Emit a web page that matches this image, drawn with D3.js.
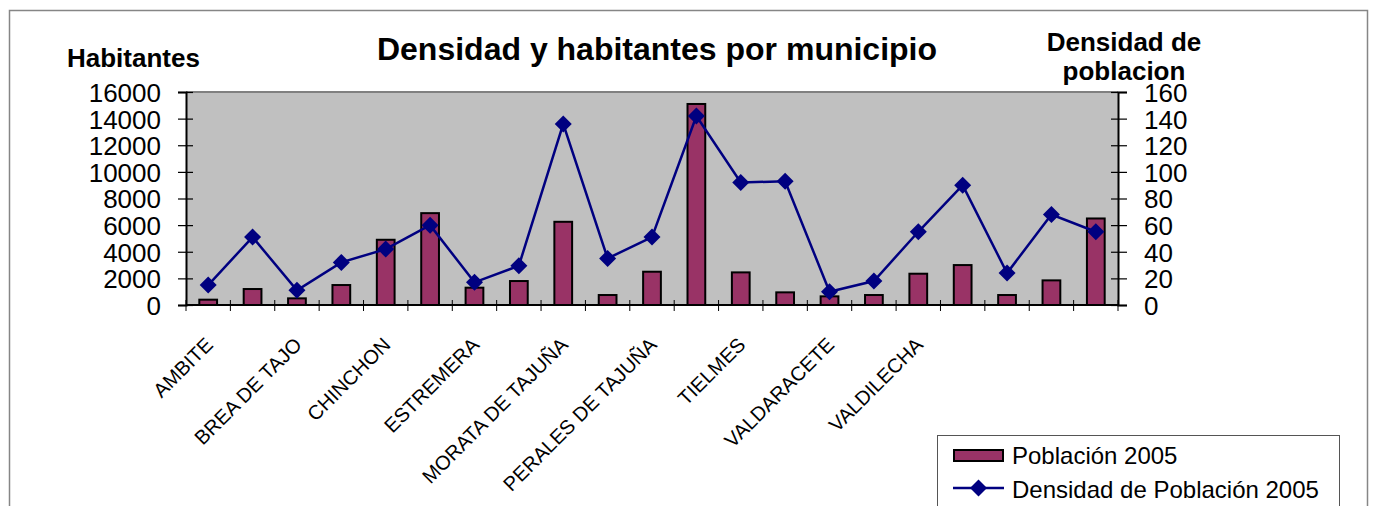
<!DOCTYPE html>
<html>
<head>
<meta charset="utf-8">
<script src="https://cdn.jsdelivr.net/npm/d3@7"></script>
<style>
  body { margin: 0; background: #fff; }
  svg { display: block; font-family: Arial, 'Liberation Sans', sans-serif; }
</style>
</head>
<body>
<div id="chart"></div>
<script>
// Municipios (solo se rotulan algunos en el eje)
const municipios = [
  'AMBITE', 'BELMONTE DE TAJO', 'BREA DE TAJO', 'CARABAÑA', 'CHINCHON',
  'COLMENAR DE OREJA', 'ESTREMERA', 'FUENTIDUEÑA DE TAJO', 'MORATA DE TAJUÑA',
  'ORUSCO DE TAJUÑA', 'PERALES DE TAJUÑA', 'SAN MARTIN DE LA VEGA', 'TIELMES',
  'TITULCIA', 'VALDARACETE', 'VALDELAGUNA', 'VALDILECHA', 'VILLACONEJOS',
  'VILLAMANRIQUE DE TAJO', 'VILLAR DEL OLMO', 'VILLAREJO DE SALVANES'
];
const etiquetasVisibles = [
  'AMBITE', 'BREA DE TAJO', 'CHINCHON', 'ESTREMERA', 'MORATA DE TAJUÑA',
  'PERALES DE TAJUÑA', 'TIELMES', 'VALDARACETE', 'VALDILECHA'
];
const poblacion = [400, 1200, 500, 1500, 4900, 6900, 1300, 1800, 6250, 750, 2500,
  15100, 2450, 950, 650, 750, 2350, 3000, 750, 1850, 6500];
const densidad = [15, 51, 11, 32, 42, 60, 17, 29.5, 136, 35, 51,
  142, 92, 93, 10, 18, 55, 90, 24, 68, 55];
const ticksHabitantes = [0, 2000, 4000, 6000, 8000, 10000, 12000, 14000, 16000];
const ticksDensidad = [0, 20, 40, 60, 80, 100, 120, 140, 160];

const width = 1374;
const height = 506;
const plot = { left: 186, right: 1118, top: 92, bottom: 305 };

const svg = d3.select('#chart')
  .append('svg')
  .attr('width', width)
  .attr('height', height);

// Marco exterior del gráfico
svg.append('rect')
  .attr('x', 9.5).attr('y', 10.5)
  .attr('width', 1358).attr('height', 520)
  .attr('fill', '#fff')
  .attr('stroke', '#868686')
  .attr('stroke-width', 1.5);

const x = d3.scaleBand()
  .domain(municipios)
  .range([plot.left, plot.right])
  .padding(0);

const yHab = d3.scaleLinear().domain([0, 16000]).range([plot.bottom, plot.top]);
const yDen = d3.scaleLinear().domain([0, 160]).range([plot.bottom, plot.top]);

// Área de trazado
svg.append('rect')
  .attr('x', plot.left).attr('y', plot.top)
  .attr('width', plot.right - plot.left)
  .attr('height', plot.bottom - plot.top)
  .attr('fill', '#c0c0c0');
svg.append('line')
  .attr('x1', plot.left).attr('x2', plot.right)
  .attr('y1', plot.top).attr('y2', plot.top)
  .attr('stroke', '#808080').attr('stroke-width', 2);

// Barras: población
const barW = x.bandwidth() * 0.4;
svg.append('g')
  .selectAll('rect')
  .data(poblacion)
  .enter()
  .append('rect')
  .attr('x', (d, i) => x(municipios[i]) + (x.bandwidth() - barW) / 2)
  .attr('y', (d) => yHab(d))
  .attr('width', barW)
  .attr('height', (d) => yHab(0) - yHab(d))
  .attr('fill', '#993366')
  .attr('stroke', '#000')
  .attr('stroke-width', 2);

// Ejes
const axisLeft = svg.append('g')
  .attr('transform', `translate(${plot.left},0)`)
  .call(d3.axisLeft(yHab).tickValues(ticksHabitantes).tickSize(8).tickPadding(17).tickFormat(d3.format('d')));
const axisRight = svg.append('g')
  .attr('transform', `translate(${plot.right},0)`)
  .call(d3.axisRight(yDen).tickValues(ticksDensidad).tickSize(9).tickPadding(17).tickFormat(d3.format('d')));
[axisLeft, axisRight].forEach((g) => {
  g.select('.domain').attr('stroke', '#000').attr('stroke-width', 2);
  g.selectAll('.tick line').attr('stroke', '#000').attr('stroke-width', 1.2);
  g.selectAll('.tick text')
    .attr('font-size', '26px')
    .attr('fill', '#000')
    .attr('font-family', "Arial, 'Liberation Sans', sans-serif")
    .attr('dy', '0.36em');
});
// marcas cruzadas (salen también hacia dentro)
axisLeft.selectAll('.tick').append('line')
  .attr('x1', 0).attr('x2', 7).attr('stroke', '#000').attr('stroke-width', 1.2);
axisRight.selectAll('.tick').append('line')
  .attr('x1', -7).attr('x2', 0).attr('stroke', '#000').attr('stroke-width', 1.2);

// Eje de categorías
const bounds = d3.range(municipios.length + 1).map((i) => plot.left + i * x.step());
svg.append('g')
  .selectAll('line')
  .data(bounds)
  .enter()
  .append('line')
  .attr('x1', (d) => d).attr('x2', (d) => d)
  .attr('y1', plot.bottom - 5).attr('y2', plot.bottom + 6)
  .attr('stroke', '#000').attr('stroke-width', 1);
svg.append('line')
  .attr('x1', plot.left).attr('x2', plot.right)
  .attr('y1', plot.bottom).attr('y2', plot.bottom)
  .attr('stroke', '#000').attr('stroke-width', 2);

svg.append('g')
  .selectAll('text')
  .data(etiquetasVisibles)
  .enter()
  .append('text')
  .attr('transform', (d) => `translate(${x(d) + x.bandwidth() / 2 + 6},${346}) rotate(-45)`)
  .attr('text-anchor', 'end')
  .attr('font-size', '20px')
  .attr('fill', '#000')
  .text((d) => d);

// Línea: densidad
const line = d3.line()
  .x((d, i) => x(municipios[i]) + x.bandwidth() / 2)
  .y((d) => yDen(d));
svg.append('path')
  .datum(densidad)
  .attr('d', line)
  .attr('fill', 'none')
  .attr('stroke', '#000080')
  .attr('stroke-width', 2.5);

const diamond = 'M0,-8.5 L8.5,0 L0,8.5 L-8.5,0 Z';
svg.append('g')
  .selectAll('path')
  .data(densidad)
  .enter()
  .append('path')
  .attr('transform', (d, i) => `translate(${x(municipios[i]) + x.bandwidth() / 2},${yDen(d)})`)
  .attr('d', diamond)
  .attr('fill', '#000080');

// Títulos
svg.append('text')
  .attr('x', 657).attr('y', 60)
  .attr('text-anchor', 'middle')
  .attr('font-size', '32px').attr('font-weight', 'bold')
  .text('Densidad y habitantes por municipio');
svg.append('text')
  .attr('x', 67).attr('y', 67)
  .attr('font-size', '26px').attr('font-weight', 'bold')
  .text('Habitantes');
const tituloDer = svg.append('text')
  .attr('text-anchor', 'middle')
  .attr('font-size', '26px').attr('font-weight', 'bold');
tituloDer.append('tspan').attr('x', 1124).attr('y', 51).text('Densidad de');
tituloDer.append('tspan').attr('x', 1124).attr('y', 80).text('poblacion');

// Leyenda
const legend = svg.append('g');
legend.append('rect')
  .attr('x', 937.5).attr('y', 435.5)
  .attr('width', 402).attr('height', 100)
  .attr('fill', '#fff')
  .attr('stroke', '#555')
  .attr('stroke-width', 1);
legend.append('rect')
  .attr('x', 954).attr('y', 450)
  .attr('width', 49).attr('height', 11)
  .attr('fill', '#993366')
  .attr('stroke', '#000')
  .attr('stroke-width', 2);
legend.append('text')
  .attr('x', 1012).attr('y', 464)
  .attr('font-size', '24px')
  .text('Población 2005');
legend.append('line')
  .attr('x1', 953).attr('x2', 1004)
  .attr('y1', 488).attr('y2', 488)
  .attr('stroke', '#000080').attr('stroke-width', 2.5);
legend.append('path')
  .attr('transform', 'translate(978.5,488)')
  .attr('d', diamond)
  .attr('fill', '#000080');
legend.append('text')
  .attr('x', 1012).attr('y', 498)
  .attr('font-size', '24px')
  .text('Densidad de Población 2005');
</script>
</body>
</html>
